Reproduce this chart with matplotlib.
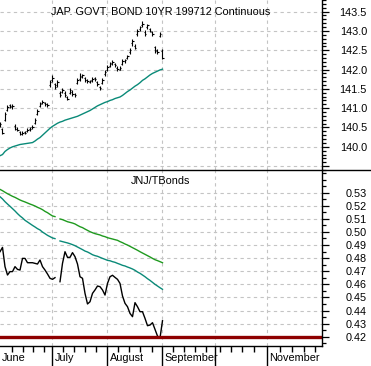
import numpy as np
import matplotlib
matplotlib.use("Agg")
import matplotlib.pyplot as plt
from matplotlib.lines import Line2D
import matplotlib.transforms as mtransforms

plt.rcParams['font.family'] = ['Liberation Sans', 'DejaVu Sans']

# ---------------- data ----------------
nan = np.nan
# Top panel: JGB 10yr futures daily bars (trading-day index 0..65)
bar_open = [140.55, 140.45, 140.70, 140.95, 141.08, 141.02, 140.55, 140.47, 140.38, 140.33,
            140.38, 140.40, 140.45, 140.50, 140.62, 140.85, 141.05, 141.14, 141.13, 141.10,
            141.60, 141.72, 141.62, 141.60, 141.40, 141.42, 141.40, 141.28, 141.40, 141.42,
            141.36, 141.65, 141.76, 141.82, 141.78, 141.72, 141.68, 141.72, 141.77, 141.68,
            141.55, 141.66, 141.88, 142.00, 142.10, 142.16, 142.15, 142.05, 142.00, 142.15,
            142.22, 142.30, 142.45, 142.68, 142.62, 142.92, 143.05, 143.15, 142.98, 143.10,
            143.05, 142.96, 142.58, 142.48, 142.88, 142.48]
bar_high = [140.65, 140.48, 140.90, 141.08, 141.12, 141.10, 140.58, 140.50, 140.42, 140.40,
            140.41, 140.48, 140.52, 140.56, 140.75, 140.98, 141.15, 141.20, 141.16, 141.13,
            141.72, 141.85, 141.65, 141.72, 141.44, 141.52, 141.44, 141.32, 141.52, 141.46,
            141.40, 141.78, 141.90, 141.88, 141.80, 141.75, 141.74, 141.80, 141.80, 141.70,
            141.58, 141.78, 141.98, 142.12, 142.20, 142.24, 142.18, 142.08, 142.08, 142.26,
            142.28, 142.38, 142.55, 142.80, 142.66, 143.04, 143.12, 143.26, 143.02, 143.18,
            143.08, 143.00, 142.62, 142.52, 142.96, 142.52]
bar_low = [140.50, 140.32, 140.66, 140.92, 141.00, 140.98, 140.44, 140.40, 140.30, 140.30,
           140.32, 140.38, 140.42, 140.46, 140.58, 140.82, 141.02, 141.10, 141.06, 141.04,
           141.56, 141.68, 141.50, 141.56, 141.30, 141.38, 141.30, 141.20, 141.36, 141.32,
           141.30, 141.62, 141.70, 141.78, 141.68, 141.66, 141.64, 141.68, 141.70, 141.58,
           141.48, 141.62, 141.84, 141.96, 142.06, 142.12, 142.06, 141.96, 141.98, 142.12,
           142.18, 142.26, 142.40, 142.62, 142.52, 142.86, 143.00, 143.10, 142.88, 143.06,
           142.96, 142.88, 142.42, 142.40, 142.84, 142.26]
bar_close = [140.60, 140.36, 140.85, 141.03, 141.06, 141.06, 140.47, 140.44, 140.34, 140.36,
             140.36, 140.44, 140.47, 140.52, 140.70, 140.93, 141.11, 141.16, 141.11, 141.08,
             141.67, 141.78, 141.55, 141.67, 141.34, 141.47, 141.34, 141.24, 141.47, 141.37,
             141.34, 141.73, 141.80, 141.85, 141.73, 141.70, 141.70, 141.75, 141.75, 141.62,
             141.52, 141.73, 141.93, 142.06, 142.14, 142.19, 142.11, 142.01, 142.03, 142.21,
             142.24, 142.34, 142.50, 142.75, 142.57, 142.99, 143.09, 143.19, 142.93, 143.14,
             143.01, 142.93, 142.50, 142.45, 142.93, 142.30]
bond_ma = [139.77, 139.80, 139.88, 139.93, 139.97, 140.00, 140.02, 140.04, 140.06, 140.07,
           140.08, 140.09, 140.10, 140.11, 140.15, 140.20, 140.24, 140.30, 140.36, 140.42,
           140.48, 140.53, 140.57, 140.61, 140.64, 140.66, 140.69, 140.71, 140.73, 140.75,
           140.77, 140.79, 140.82, 140.85, 140.88, 140.91, 140.94, 140.98, 141.02, 141.06,
           141.09, 141.12, 141.15, 141.17, 141.20, 141.22, 141.25, 141.27, 141.29, 141.33,
           141.38, 141.43, 141.47, 141.52, 141.57, 141.61, 141.66, 141.72, 141.76, 141.81,
           141.86, 141.90, 141.93, 141.96, 141.99, 142.01]

# Bottom panel: JNJ / T-Bonds ratio and its moving averages
ratio = [0.4849, 0.4882, 0.4735, 0.4671, 0.4697, 0.4697, 0.4735, 0.4714, 0.4709, 0.4798,
         0.4798, 0.4765, 0.4765, 0.4765, 0.4760, 0.4755, 0.4786, 0.4735, 0.4709, 0.4679,
         0.4646, 0.4638, 0.4651, nan, 0.4620, 0.4760, 0.4849, 0.4806, 0.4806, 0.4842,
         0.4811, 0.4755, 0.4658, 0.4646, 0.4531, 0.4450, 0.4467, 0.4531, 0.4557, 0.4587,
         0.4582, 0.4557, 0.4518, 0.4607, 0.4658, 0.4669, 0.4653, 0.4638, 0.4607, 0.4511,
         0.4455, 0.4429, 0.4378, 0.4353, 0.4460, 0.4429, 0.4391, 0.4391, 0.4340, 0.4284,
         0.4289, 0.4307, 0.4256, 0.4205, 0.4190, 0.4322]
ratio_ma_short = [0.5269, 0.5252, 0.5231, 0.5213, 0.5196, 0.5178, 0.5160, 0.5140, 0.5122, 0.5107,
                  0.5089, 0.5076, 0.5063, 0.5050, 0.5038, 0.5025, 0.5015, 0.4999, 0.4987, 0.4974,
                  0.4964, 0.4954, 0.4949, nan, 0.4931, 0.4926, 0.4921, 0.4916, 0.4910, 0.4903,
                  0.4895, 0.4885, 0.4875, 0.4865, 0.4854, 0.4847, 0.4837, 0.4826, 0.4819, 0.4814,
                  0.4806, 0.4798, 0.4791, 0.4783, 0.4780, 0.4773, 0.4768, 0.4760, 0.4753, 0.4745,
                  0.4740, 0.4732, 0.4725, 0.4717, 0.4707, 0.4694, 0.4684, 0.4671, 0.4658, 0.4643,
                  0.4630, 0.4615, 0.4600, 0.4587, 0.4574, 0.4562]
ratio_ma_long = [0.5325, 0.5315, 0.5303, 0.5292, 0.5282, 0.5272, 0.5264, 0.5254, 0.5244, 0.5236,
                 0.5229, 0.5221, 0.5213, 0.5206, 0.5198, 0.5188, 0.5180, 0.5170, 0.5157, 0.5147,
                 0.5134, 0.5122, 0.5117, nan, 0.5099, 0.5094, 0.5086, 0.5078, 0.5073, 0.5068,
                 0.5061, 0.5050, 0.5040, 0.5033, 0.5022, 0.5012, 0.5002, 0.4994, 0.4987, 0.4982,
                 0.4977, 0.4969, 0.4964, 0.4956, 0.4951, 0.4946, 0.4941, 0.4936, 0.4926, 0.4918,
                 0.4908, 0.4900, 0.4890, 0.4880, 0.4870, 0.4860, 0.4849, 0.4839, 0.4829, 0.4819,
                 0.4809, 0.4798, 0.4788, 0.4781, 0.4773, 0.4765]
support_level = 0.42

month_pos = [0, 21, 43, 65, 86, 107]
month_labels = ['June', 'July', 'August', 'September', '', 'November']
week_pos = [4.7, 9.1, 13.3, 17.7, 25.3, 29.6, 34.0, 38.4, 47.3, 51.7, 56.0, 60.7,
            69.2, 73.6, 78.0, 82.4, 88.0, 92.3, 96.7, 101.6, 112.0, 116.7, 121.6, 126.0]
top_major = [139.5, 140.0, 140.5, 141.0, 141.5, 142.0, 142.5, 143.0, 143.5]
top_labels = ['', '140.0', '140.5', '141.0', '141.5', '142.0', '142.5', '143.0', '143.5']
bot_major = [0.42, 0.43, 0.44, 0.45, 0.46, 0.47, 0.48, 0.49, 0.50, 0.51, 0.52, 0.53]
bot_labels = ['0.42', '0.43', '0.44', '0.45', '0.46', '0.47', '0.48', '0.49', '0.50',
              '0.51', '0.52', '0.53']

title_top = 'JAP. GOVT. BOND 10YR 199712 Continuous'
title_bot = 'JNJ/TBonds'

# ---------------- layout ----------------
W, H = 371, 366
fig = plt.figure(figsize=(W / 100, H / 100), dpi=100)
fig.patch.set_facecolor('white')
axR = 322 / W
ax1 = fig.add_axes([0, 1 - 170 / H, axR, 170 / H])
ax2 = fig.add_axes([0, 1 - 346 / H, axR, 176 / H])

px = 72 / 100  # points per pixel
FS = 7.8
grid_kw = dict(color='#c4c4c4', linestyle=(0, (3, 3)), linewidth=0.8)
xlim = (0, 128.8)

days = np.arange(len(bar_close))

for ax in (ax1, ax2):
    ax.set_xlim(*xlim)
    for s in ('left', 'top'):
        ax.spines[s].set_visible(False)
    ax.spines['right'].set_linewidth(1.0)
    ax.yaxis.tick_right()
    ax.set_xticks(month_pos)
    ax.set_xticks(week_pos, minor=True)
    ax.grid(True, which='major', **grid_kw)
    ax.set_axisbelow(True)
    ax.tick_params(axis='y', which='major', direction='out', length=7 * px, width=0.9,
                   labelsize=FS, pad=38 * px)
    ax.tick_params(axis='y', which='minor', direction='out', length=4 * px, width=0.9)

# ---- top panel ----
ax1.set_ylim(139.41, 143.78)
ax1.spines['bottom'].set_visible(False)
ax1.tick_params(axis='x', which='both', length=0, labelbottom=False)
ax1.set_yticks(top_major)
ax1.set_yticklabels(top_labels)
ax1.set_yticks(np.arange(139.4, 143.85, 0.1), minor=True)
for lab in ax1.get_yticklabels():
    lab.set_ha('right')

ax1.vlines(days, bar_low, bar_high, color='black', linewidth=0.8)
ax1.hlines(bar_open, days - 0.5, days, color='black', linewidth=0.8)
ax1.hlines(bar_close, days, days + 0.5, color='black', linewidth=0.8)
ax1.plot(days, bond_ma, color='#0a8a78', linewidth=1.0)
ax1.text(0.5, 1 - 12 / 170, title_top, transform=ax1.transAxes, ha='center', va='center',
         fontsize=FS, color='black')

# ---- bottom panel ----
ax2.set_ylim(0.4129, 0.5473)
ax2.spines['bottom'].set_linewidth(1.0)
ax2.set_yticks(bot_major)
ax2.set_yticklabels(bot_labels)
ax2.set_yticks(np.arange(0.415, 0.546, 0.005), minor=True)
for lab in ax2.get_yticklabels():
    lab.set_ha('right')

ax2.plot(days, ratio_ma_long, color='#1f9a1f', linewidth=1.0)
ax2.plot(days, ratio_ma_short, color='#0a8a78', linewidth=1.0)
ax2.plot(days, ratio, color='black', linewidth=1.0)
ax2.axhline(support_level, color='#8e0000', linewidth=2.4)
ax2.text(0.5, 1 - 11 / 176, title_bot, transform=ax2.transAxes, ha='center', va='center',
         fontsize=FS, color='black')

ax2.set_xticklabels(month_labels)
ax2.tick_params(axis='x', which='major', direction='out', length=20 * px, width=1.0,
                labelsize=FS, pad=-13 * px)
ax2.tick_params(axis='x', which='minor', direction='out', length=6 * px, width=1.0)
offset = mtransforms.ScaledTranslation(2 / 100, 0, fig.dpi_scale_trans)
for lab in ax2.get_xticklabels():
    lab.set_ha('left')
    lab.set_transform(lab.get_transform() + offset)

# hide tick line / gridline at the left edge (June start)
for ax in (ax1, ax2):
    t0 = ax.xaxis.get_major_ticks()[0]
    t0.tick1line.set_visible(False)
    t0.gridline.set_visible(False)

# panel divider across full width
fig.add_artist(Line2D([0, 1], [1 - 170 / H, 1 - 170 / H], color='black', linewidth=1.0,
                      transform=fig.transFigure))

fig.savefig('out.png', dpi=100, facecolor='white')
